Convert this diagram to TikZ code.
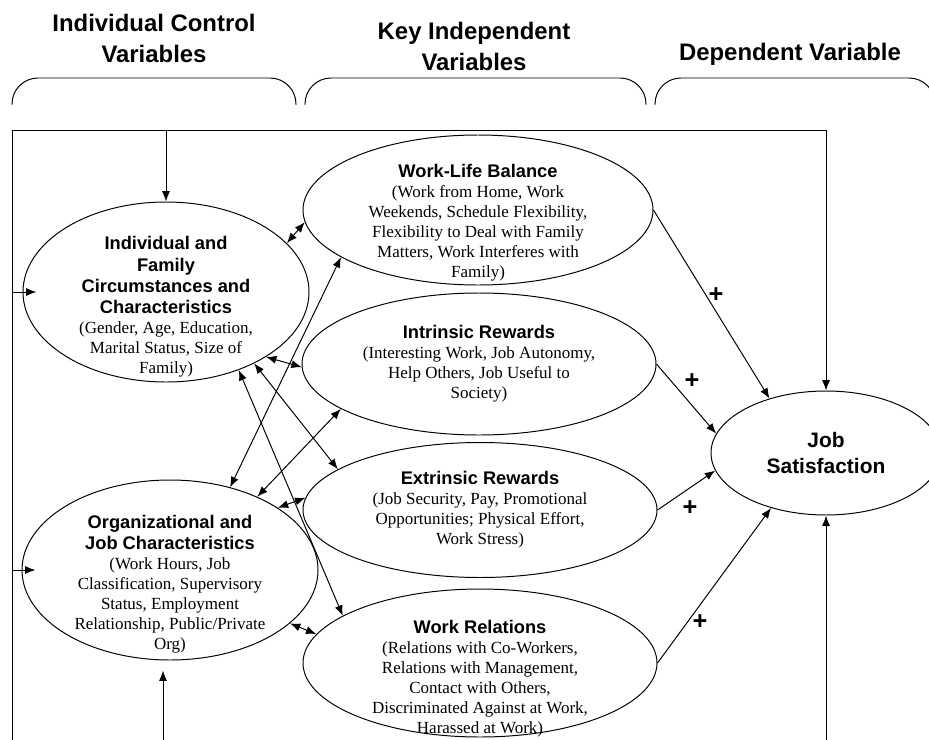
\documentclass[tikz,border=0pt]{standalone}
\usepackage{fontspec}
\setmainfont{Liberation Serif}
\setsansfont{Liberation Sans}
\usetikzlibrary{shapes.geometric,arrows.meta}

\newcommand{\hdrfont}{\sffamily\bfseries\fontsize{17}{22}\selectfont}
\newcommand{\ttlfont}{\sffamily\bfseries\fontsize{13}{15.4}\selectfont}
\newcommand{\bodyfont}{\rmfamily\fontsize{12.1}{14.2}\selectfont}
\newcommand{\ttl}[1]{{\ttlfont #1}}

\tikzset{
  oval/.style={draw, ellipse, inner sep=0pt},
  ovaltext/.style={align=center, font=\bodyfont, inner sep=0pt},
  header/.style={align=center, font=\hdrfont},
  plus/.style={font=\sffamily\bfseries\fontsize{18}{18}\selectfont, inner sep=0pt},
}

\begin{document}
\begin{tikzpicture}[>={Latex[length=2.6mm,width=2mm]}, line width=0.7pt]
  \useasboundingbox (0,0) rectangle (23.225,-18.5);
  \clip (0,0) rectangle (23.225,-18.5);
  %% headings
  \node[header] (hctrl) at (3.85,-0.96) {Individual Control\\Variables};
  \node[header] (hkey) at (11.85,-1.16) {Key Independent\\Variables};
  \node[header] (hdep) at (19.75,-1.35) {Dependent Variable};
  %% brackets
  \draw[rounded corners=0.65cm] (0.3,-2.625) |- (3,-1.95) -| (7.4,-2.625);
  \draw[rounded corners=0.65cm] (7.625,-2.625) |- (11,-1.95) -| (16.15,-2.625);
  \draw[rounded corners=0.65cm] (16.375,-2.625) |- (19,-1.95) -| (23.375,-2.625);
  %% control variables
  \node[oval, minimum width=7.15cm, minimum height=4.5cm] (indiv) at (4.15,-7.3) {};
  \node[ovaltext, yshift=-0.375cm] (indivtxt) at (indiv) {\ttl{Individual and}\\[1pt] \ttl{Family}\\[1pt]
    \ttl{Circumstances and}\\[1pt] \ttl{Characteristics}\\ (Gender, Age, Education,\\ Marital Status, Size of\\ Family)};
  \node[oval, minimum width=7.4cm, minimum height=4.5cm] (org) at (4.25,-14.25) {};
  \node[ovaltext, yshift=-0.35cm] (orgtxt) at (org) {\ttl{Organizational and}\\[1pt] \ttl{Job Characteristics}\\
    (Work Hours, Job\\ Classification, Supervisory\\ Status, Employment\\ Relationship, Public/Private\\ Org)};
  %% key independent variables
  \node[oval, minimum width=8.75cm, minimum height=3.75cm] (wlb) at (11.95,-5.25) {};
  \node[ovaltext, yshift=-0.325cm] (wlbtxt) at (wlb) {\ttl{Work-Life Balance}\\ (Work from Home, Work\\
    Weekends, Schedule Flexibility,\\ Flexibility to Deal with Family\\ Matters, Work Interferes with\\ Family)};
  \node[oval, minimum width=8.85cm, minimum height=3.55cm] (intr) at (11.975,-9.1) {};
  \node[ovaltext] (intrtxt) at (intr) {\ttl{Intrinsic Rewards}\\ (Interesting Work, Job Autonomy,\\
    Help Others, Job Useful to\\ Society)};
  \node[oval, minimum width=8.85cm, minimum height=3.375cm] (extr) at (12,-12.75) {};
  \node[ovaltext] (extrtxt) at (extr) {\ttl{Extrinsic Rewards}\\ (Job Security, Pay, Promotional\\
    Opportunities; Physical Effort,\\ Work Stress)};
  \node[oval, minimum width=8.85cm, minimum height=3.7cm] (wrel) at (12,-16.575) {};
  \node[ovaltext, yshift=-0.4cm] (wreltxt) at (wrel) {\ttl{Work Relations}\\ (Relations with Co-Workers,\\
    Relations with Management,\\ Contact with Others,\\ Discriminated Against at Work,\\ Harassed at Work)};
  %% dependent variable
  \node[oval, minimum width=5.75cm, minimum height=3.1cm] (job) at (20.65,-11.325) {};
  \node[align=center, font=\sffamily\bfseries\fontsize{14.9}{17.8}\selectfont] (jobtxt) at (job) {Job\\Satisfaction};
  %% outer frame
  \coordinate (tl) at (0.3,-3.25);
  \coordinate (bl) at (0.3,-18.5);
  \coordinate (orgbot) at (4.075,-18.5);
  \draw (bl) -- (tl) -- (tl -| job.north);
  \draw[->] (tl -| job.north) -- (job.north);
  \draw[->] (tl -| indiv.north) -- (indiv.north);
  \draw[->, shorten >=-0.35cm] (tl |- indiv.west) -- (indiv.west);
  \draw[->, shorten >=-0.35cm] (tl |- org.west) -- (org.west);
  \draw[->, shorten >=0.25cm] (orgbot) -- (orgbot |- org.south);
  \draw[->] (job.south |- bl) -- (job.south);
  %% correlations
  \draw[<->] (indiv.22.3) -- (wlb.184.3);
  \draw[<->] (org.54.8) -- (wlb.199.7);
  \draw[<->] (indiv.-33.2) -- (intr.181.9);
  \draw[<->] (indiv.-47.4) -- (wrel.161.2);
  \draw[<->] (indiv.-39.8) -- (extr.164.2);
  \draw[<->] (org.40.6) -- (intr.198.6);
  \draw[<->] (org.30.3) -- (extr.176.8);
  \draw[<->] (org.-24.9) -- (wrel.170.5);
  %% effects on job satisfaction
  \draw[->] (wlb.east) -- (job.136.3);
  \draw[->] (intr.east) -- (job.170.2);
  \draw[->] (extr.east) -- (job.189.3);
  \draw[->] (wrel.east) -- (job.225);
  \node[plus] (p1) at (17.9,-7.375) {+};
  \node[plus] (p2) at (17.3,-9.525) {+};
  \node[plus] (p3) at (17.25,-12.7) {+};
  \node[plus] (p4) at (17.5,-15.55) {+};
\end{tikzpicture}
\end{document}
